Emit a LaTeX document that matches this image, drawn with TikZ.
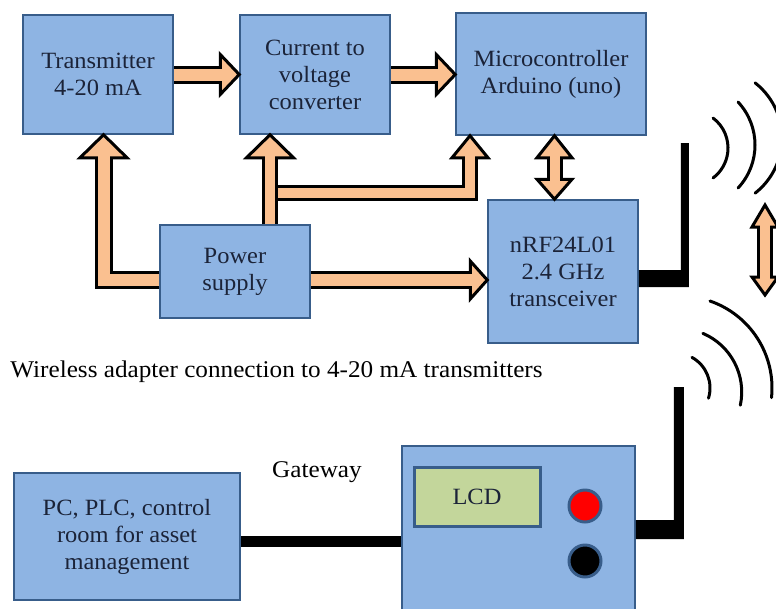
\documentclass[tikz,border=0pt]{standalone}
\usepackage{fontspec}
\setmainfont{Liberation Serif}[FakeStretch=1.05]
\usetikzlibrary{calc}
\definecolor{boxblue}{HTML}{8EB4E3}
\definecolor{boxedge}{HTML}{385D8A}
\definecolor{pipeor}{HTML}{FAC090}
\definecolor{lcdgreen}{HTML}{C3D69B}
\definecolor{txt}{HTML}{1B2338}
\newcommand\ahead[4]{\draw[headst,shift={(#1)},rotate=#2] (0,0) -- (-#3,#4) -- (-#3,-#4) -- cycle;}
\begin{document}
\begin{tikzpicture}[x=1pt,y=-1pt,
  blk/.style={draw=boxedge, line width=1.5pt, fill=boxblue, text=txt, align=center,
    font=\fontsize{23.3}{27}\selectfont, inner sep=0pt},
  pipeout/.style={line width=18pt, draw=black, line join=miter},
  pipein/.style={line width=12pt, draw=pipeor, line join=miter},
  thinout/.style={line width=16pt, draw=black, line join=miter},
  thinin/.style={line width=10pt, draw=pipeor, line join=miter},
  headst/.style={fill=pipeor, draw=black, line width=3pt, line join=miter},
  wave/.style={line width=3pt, line cap=round},
  lbl/.style={font=\fontsize{24}{28}\selectfont, text=black}
]
\useasboundingbox (0,0) rectangle (776,608);

% boxes
\node[blk, minimum width=150pt, minimum height=119pt] (trans) at (98,74.5) {Transmitter\\4-20 mA};
\node[blk, minimum width=150pt, minimum height=119pt] (cur) at (315,74.5) {Current to\\voltage\\converter};
\node[blk, minimum width=190pt, minimum height=122pt] (mcu) at (551,74) {Microcontroller\\Arduino (uno)};
\node[blk, minimum width=150pt, minimum height=143pt] (nrf) at (563,271.5) {nRF24L01\\2.4 GHz\\transceiver};
\node[blk, minimum width=150pt, minimum height=93pt] (ps) at (235,271.5) {Power\\supply};
\node[blk, minimum width=226pt, minimum height=127pt] (pc) at (127,536.5) {PC, PLC, control\\room for asset\\management};
\node[blk, minimum width=233pt, minimum height=170pt] (gw) at (518.5,531) {};
\node[draw=boxedge, line width=3pt, fill=lcdgreen, text=txt, inner sep=0pt,
  minimum width=126pt, minimum height=59pt, font=\fontsize{23.3}{27}\selectfont] (lcd) at (477,496.5) {LCD};
\node[circle, draw=boxedge, line width=3pt, fill=red, minimum size=32pt, inner sep=0pt] (ledr) at (585,506) {};
\node[circle, draw=boxedge, line width=3pt, fill=black, minimum size=32pt, inner sep=0pt] (ledb) at (585,561) {};

% labels
\node[lbl] (cap) at (276.5,372) {Wireless adapter connection to 4-20 mA transmitters};
\node[lbl] (gwl) at (317,472) {Gateway};

% key coordinates
\coordinate (t1) at ($(trans.south)+(5.5,0)$);
\coordinate (t2) at ($(cur.south)+(-45,0)$);
\coordinate (t3) at ($(mcu.south)+(-81,0)$);
\coordinate (j) at ($(t2)+(0,58)$);
\coordinate (t4) at ($(mcu.south)+(3.5,0)$);
\coordinate (t5) at (t4 |- nrf.north);
\coordinate (ra) at (765,205);
\coordinate (rb) at (765,295);

% black outlines of block arrows
\draw[pipeout] (trans.east) -- ($(cur.west)+(-19,0)$);
\draw[pipeout] (cur.east) -- ($(cur.east -| mcu.west)+(-19,0)$);
\draw[pipeout] ($(ps.west)+(0,8.5)$) -| ($(t1)+(0,23)$);
\draw[thinout] (t2 |- ps.north) -- ($(t2)+(0,23)$);
\draw[thinout] (j) -| ($(t3)+(0,22)$);
\draw[pipeout] ($(ps.east)+(0,8.5)$) -- ($(ps.east -| nrf.west)+(-17,8.5)$);
\draw[thinout] ($(t4)+(0,22)$) -- ($(t5)+(0,-20)$);
\draw[thinout] ($(ra)+(0,22)$) -- ($(rb)+(0,-18)$);

% heads
\ahead{cur.west}{0}{19}{20}
\ahead{cur.east -| mcu.west}{0}{19}{20}
\ahead{t1}{90}{23}{23.5}
\ahead{t2}{90}{23}{23.5}
\ahead{t3}{90}{22}{18}
\ahead{$(ps.east -| nrf.west)+(0,8.5)$}{0}{17}{19}
\ahead{t4}{90}{22}{17.5}
\ahead{t5}{-90}{20}{17.5}
\ahead{ra}{90}{22}{13}
\ahead{rb}{-90}{18}{13}

% orange fills
\draw[pipein] (trans.east) -- ($(cur.west)+(-16,0)$);
\draw[pipein] (cur.east) -- ($(cur.east -| mcu.west)+(-16,0)$);
\draw[pipein] ($(ps.west)+(0,8.5)$) -| ($(t1)+(0,20)$);
\draw[thinin] (t2 |- ps.north) -- ($(t2)+(0,20)$);
\draw[thinin] ($(j)+(8,0)$) -| ($(t3)+(0,19)$);
\draw[pipein] ($(ps.east)+(0,8.5)$) -- ($(ps.east -| nrf.west)+(-14,8.5)$);
\draw[thinin] ($(t4)+(0,19)$) -- ($(t5)+(0,-17)$);
\draw[thinin] ($(ra)+(0,19)$) -- ($(rb)+(0,-15)$);

% antennas and wired link
\fill[black] ($(nrf.east)+(0,-1.5)$) -- ++(42,0) -- ++(0,-127) -- ++(8,0) -- ++(0,144) -- ++(-50,0) -- cycle;
\fill[black] ($(gw.east)+(0,-11)$) -- ++(38,0) -- ++(0,-133) -- ++(10,0) -- ++(0,152) -- ++(-48,0) -- cycle;
\draw[line width=11pt] ($(pc.east)+(0,5)$) -- ($(pc.east -| gw.west)+(0,5)$);

% radio waves
\draw[wave] ($(690.5,148)+(-53:37.5)$) arc[start angle=-53, end angle=53, radius=37.5];
\draw[wave] ($(692,145)+(-43:63)$) arc[start angle=-43, end angle=43, radius=63];
\draw[wave] ($(712,138)+(-52:70)$) arc[start angle=-52, end angle=52, radius=70];
\draw[wave] ($(680,388)+(-71:92)$) arc[start angle=-71, end angle=6, radius=92];
\draw[wave] ($(678,392)+(-67:63.7)$) arc[start angle=-67, end angle=12, radius=63.7];
\draw[wave] ($(675,388)+(-61:35)$) arc[start angle=-61, end angle=17, radius=35];
\end{tikzpicture}
\end{document}
